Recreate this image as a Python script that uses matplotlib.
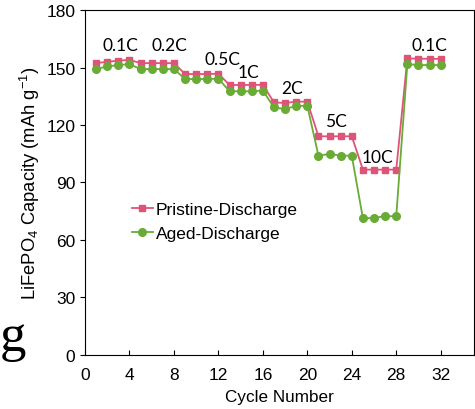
import matplotlib
matplotlib.use("Agg")
import matplotlib.pyplot as plt

plt.rcParams['font.family'] = 'Liberation Sans'
plt.rcParams['mathtext.default'] = 'regular'

cycles = list(range(1, 33))
pristine = [152.3, 153.0, 153.6, 154.0,
            152.3, 152.3, 152.3, 152.3,
            146.6, 146.6, 146.6, 146.8,
            140.9, 140.9, 140.9, 141.0,
            131.8, 131.5, 132.2, 132.2,
            114.1, 114.1, 114.1, 114.1,
            96.7, 96.7, 96.7, 96.7,
            154.8, 154.6, 154.6, 154.5]
aged = [149.2, 150.6, 151.3, 151.8,
        149.2, 149.2, 149.2, 149.2,
        144.0, 144.0, 144.0, 144.2,
        137.6, 137.6, 137.6, 138.0,
        129.2, 128.3, 130.0, 130.0,
        104.0, 104.9, 104.0, 104.0,
        71.3, 71.5, 72.4, 72.4,
        151.8, 151.3, 151.3, 151.3]
rate_labels = ['0.1C', '0.2C', '0.5C', '1C', '2C', '5C', '10C', '0.1C']
label_x = [3.2, 7.6, 12.4, 14.7, 18.6, 22.6, 26.3, 31.0]
label_y = [162, 162, 154.5, 147.5, 139.5, 122, 103.5, 162]

fig = plt.figure(figsize=(4.75, 4.1), dpi=100)
ax = fig.add_axes([0.179, 0.132, 0.819, 0.841])

ax.plot(cycles, pristine, color='#DE5478', marker='s', markersize=5,
        linewidth=1.3, label='Pristine-Discharge')
ax.plot(cycles, aged, color='#6AAB35', marker='o', markersize=5.5,
        linewidth=1.3, label='Aged-Discharge')

for t, x, y in zip(rate_labels, label_x, label_y):
    ax.text(x, y, t, ha='center', va='center', fontsize=12.5, family='Lato')

ax.set_xlim(0, 35)
ax.set_ylim(0, 180)
ax.set_xticks(range(0, 33, 4))
ax.set_yticks(range(0, 181, 30))
ax.tick_params(axis='x', direction='in', labelsize=12.5, pad=9)
ax.tick_params(axis='y', direction='out', labelsize=12.5)
ax.set_xlabel('Cycle Number', fontsize=12.3, labelpad=5)
ax.set_ylabel('LiFePO$_4$ Capacity (mAh g$^{-1}$)', fontsize=13.2, labelpad=3)

ax.legend(loc='upper left', bbox_to_anchor=(0.08, 0.49), frameon=False,
          fontsize=12.5, handlelength=1.2, handletextpad=0.2, labelspacing=0.55)

fig.text(0.0, 0.175, 'g', fontsize=38, family='Liberation Serif',
         ha='left', va='center')

fig.savefig('out.png', dpi=100)
